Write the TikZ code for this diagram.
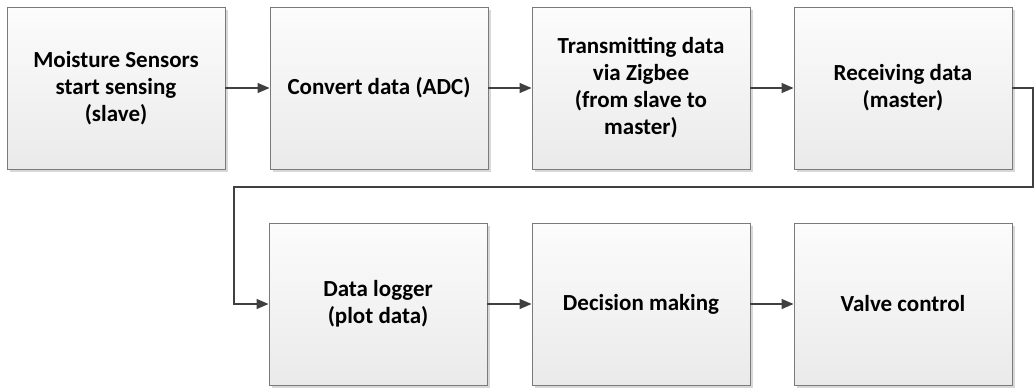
\documentclass[tikz,border=0pt]{standalone}
\usepackage{fontspec}
\setmainfont{Carlito}
\usetikzlibrary{arrows.meta,shadows}
\definecolor{boxline}{HTML}{7A7A7A}
\definecolor{arrowcol}{HTML}{404040}
\definecolor{topfill}{HTML}{FCFCFC}
\definecolor{botfill}{HTML}{EAEAEA}
\definecolor{shadowcol}{HTML}{D8D8D8}
\tikzset{
  x=1pt, y=-1pt,
  procbox/.style={draw=boxline, line width=0.9pt, top color=topfill, bottom color=botfill,
    minimum width=218pt, minimum height=162pt, align=center, inner sep=4pt,
    font=\fontsize{23}{27}\selectfont\bfseries,
    drop shadow={shadow xshift=3pt, shadow yshift=-3pt, fill=shadowcol, opacity=1}},
  flow/.style={draw=arrowcol, line width=1.4pt, -{Triangle[length=12pt,width=10pt]}}
}
\begin{document}
\begin{tikzpicture}
\useasboundingbox (0,0) rectangle (1035,389);
\node[procbox] (b1) at (116,88) {Moisture Sensors\\start sensing\\(slave)};
\node[procbox] (b2) at (379,88) {Convert data (ADC)};
\node[procbox] (b3) at (641,88) {Transmitting data\\via Zigbee\\(from slave to\\master)};
\node[procbox] (b4) at (903,88) {Receiving data\\(master)};
\node[procbox] (b5) at (378,304) {Data logger\\(plot data)};
\node[procbox] (b6) at (641,304) {Decision making};
\node[procbox] (b7) at (903,304) {Valve control};
\coordinate (c1) at (1033,88);
\coordinate (c2) at (1033,187);
\coordinate (c3) at (234,187);
\coordinate (c4) at (234,304);
\draw[flow] (b1) -- (b2);
\draw[flow] (b2) -- (b3);
\draw[flow] (b3) -- (b4);
\draw[flow] (b4.east) -- (c1) -- (c2) -- (c3) -- (c4) -- (b5.west);
\draw[flow] (b5) -- (b6);
\draw[flow] (b6) -- (b7);
\end{tikzpicture}
\end{document}
